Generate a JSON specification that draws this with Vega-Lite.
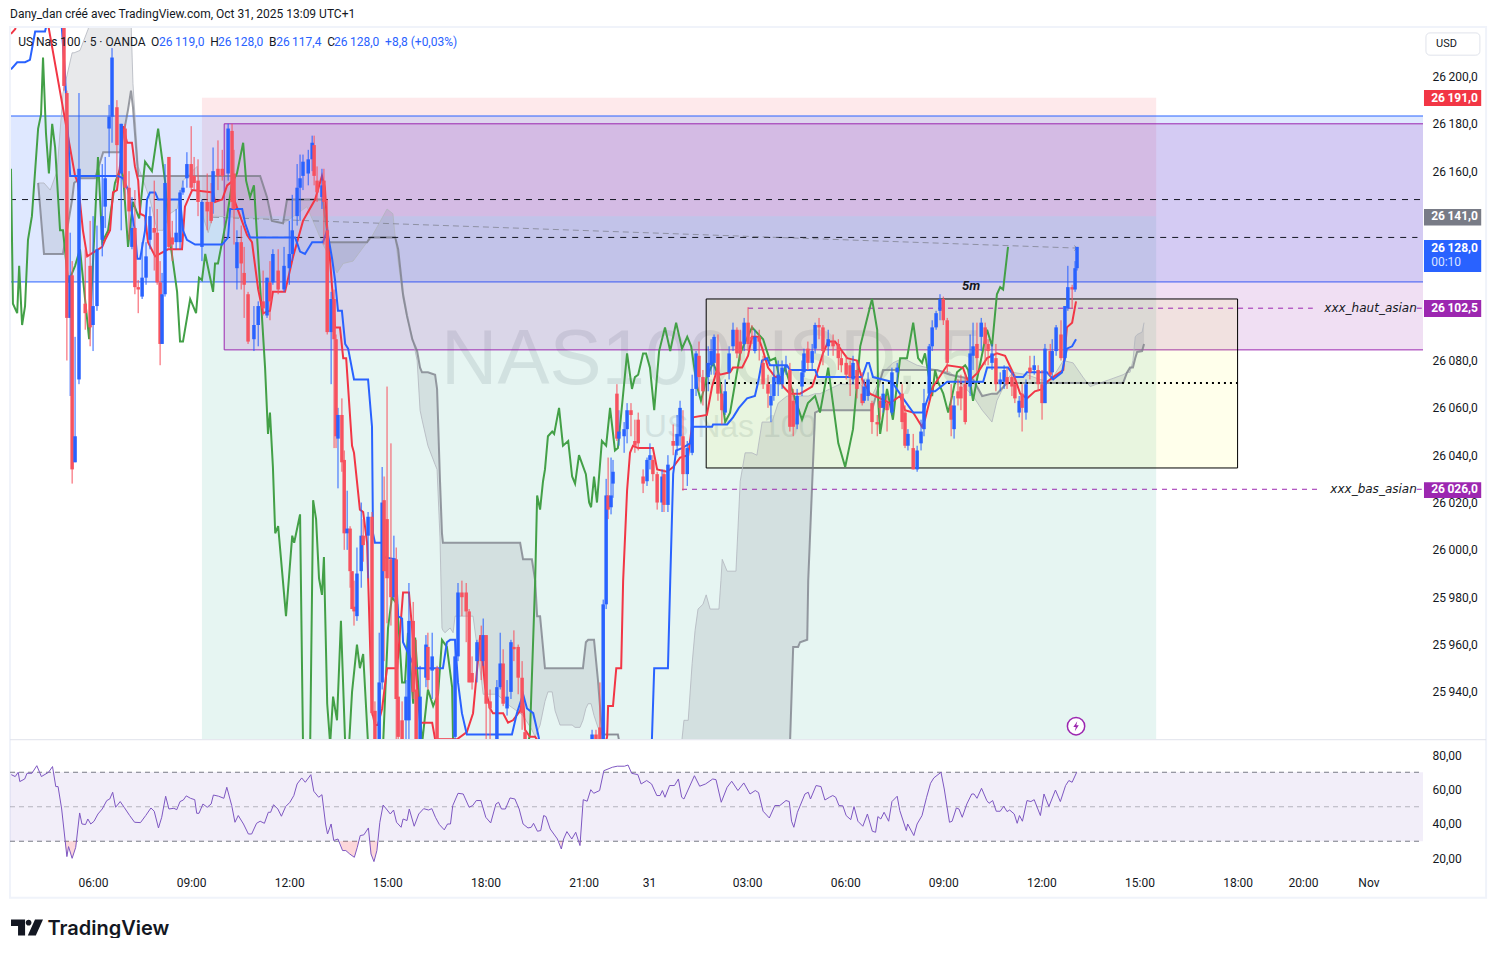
{
"$schema":"https://vega.github.io/schema/vega-lite/v6.json",
"background":"#ffffff",
"padding":{"left":9,"top":7,"right":0,"bottom":0},
"bounds":"flush",
"spacing":1,
"config":{"view":{"stroke":null},"font":"Roboto","text":{"font":"Roboto"},"scale":{"continuousPadding":0},"axis":{"labelFont":"Roboto","labelFontSize":12,"labelColor":"#131722"}},
"datasets":{
"zones":[
{"zone":"risk","t":9.33,"t2":38.51,"p":26191,"p2":26141},
{"zone":"reward","t":9.33,"t2":38.51,"p":26141,"p2":25850},
{"zone":"range","t":3.4,"t2":46.8,"p":26183.3,"p2":26113.2},
{"zone":"htf","t":10.01,"t2":46.8,"p":26180,"p2":26084.5},
{"zone":"asian","t":24.75,"t2":41,"p":26106,"p2":26034.6}
],
"levels":[
{"kind":"black","t":3.46,"t2":46.67,"p":26148},
{"kind":"black","t":10.01,"t2":46.5,"p":26132},
{"kind":"dots","t":24.62,"t2":41,"p":26070.5},
{"kind":"asian","t":26.03,"t2":43.3,"p":26102.1},
{"kind":"asian","t":46.48,"t2":46.67,"p":26102.1},
{"kind":"asian","t":24.01,"t2":43.5,"p":26025.6},
{"kind":"asian","t":46.48,"t2":46.67,"p":26025.6}
],
"cloud":[
{"t":4.32,"a":26155,"b":26155},{"t":4.5,"a":26155,"b":26125},{"t":4.69,"a":26152,"b":26125},{"t":4.9,"a":26160,"b":26125},{"t":5.08,"a":26193,"b":26125},{"t":5.36,"a":26210,"b":26148},{"t":5.42,"a":26210,"b":26155},{"t":5.6,"a":26211,"b":26157},{"t":5.85,"a":26220,"b":26157},{"t":6.06,"a":26232,"b":26157},{"t":6.31,"a":26241,"b":26168},{"t":6.83,"a":26241,"b":26168},{"t":7.07,"a":26241,"b":26186},{"t":7.16,"a":26224,"b":26194},{"t":7.22,"a":26197,"b":26187},{"t":7.38,"a":26162,"b":26158},{"t":7.74,"a":26148,"b":26158},{"t":7.96,"a":26135,"b":26158},{"t":8.14,"a":26135,"b":26158},{"t":8.35,"a":26142,"b":26158},{"t":8.57,"a":26144,"b":26158},{"t":8.75,"a":26156,"b":26158},{"t":9.18,"a":26162,"b":26158},{"t":9.36,"a":26141,"b":26158},{"t":9.52,"a":26134,"b":26158},{"t":9.67,"a":26141,"b":26158},{"t":11.11,"a":26140,"b":26158},{"t":11.32,"a":26140,"b":26149},{"t":11.47,"a":26139,"b":26139},{"t":11.81,"a":26138,"b":26138},{"t":11.93,"a":26139,"b":26148},{"t":12.24,"a":26142,"b":26148},{"t":12.54,"a":26145,"b":26148},{"t":12.85,"a":26135,"b":26148},{"t":13.03,"a":26129,"b":26148},{"t":13.19,"a":26125,"b":26130},{"t":13.46,"a":26117,"b":26130},{"t":13.65,"a":26121,"b":26130},{"t":13.95,"a":26122,"b":26130},{"t":14.38,"a":26130,"b":26130},{"t":14.47,"a":26131,"b":26132},{"t":14.99,"a":26144,"b":26132},{"t":15.17,"a":26142,"b":26132},{"t":15.24,"a":26132,"b":26132},{"t":15.33,"a":26122,"b":26127},{"t":15.48,"a":26106,"b":26108},{"t":15.6,"a":26098,"b":26099},{"t":15.76,"a":26090,"b":26089},{"t":15.91,"a":26080,"b":26084},{"t":16,"a":26059,"b":26077},{"t":16.06,"a":26055,"b":26075},{"t":16.24,"a":26044,"b":26075},{"t":16.46,"a":26036,"b":26074},{"t":16.52,"a":26034,"b":26068},{"t":16.61,"a":26005,"b":26029},{"t":16.67,"a":25967,"b":26007},{"t":16.7,"a":25966,"b":26003},{"t":16.76,"a":25965,"b":26003},{"t":16.92,"a":25967,"b":26003},{"t":17.01,"a":25965,"b":26003},{"t":17.07,"a":25972,"b":26003},{"t":17.62,"a":25972,"b":26003},{"t":17.84,"a":25949,"b":26003},{"t":17.93,"a":25939,"b":26003},{"t":18.35,"a":25939,"b":26003},{"t":18.75,"a":25934,"b":26003},{"t":19.06,"a":25931,"b":26003},{"t":19.15,"a":25930,"b":25996},{"t":19.42,"a":25924,"b":25996},{"t":19.52,"a":25921,"b":25987},{"t":19.58,"a":25923,"b":25972},{"t":19.67,"a":25926,"b":25972},{"t":19.82,"a":25936,"b":25950},{"t":19.91,"a":25940,"b":25950},{"t":20.04,"a":25940,"b":25950},{"t":20.13,"a":25932,"b":25950},{"t":20.28,"a":25926,"b":25950},{"t":20.65,"a":25926,"b":25950},{"t":20.74,"a":25925,"b":25950},{"t":20.89,"a":25925,"b":25950},{"t":20.98,"a":25928,"b":25950},{"t":21.07,"a":25933,"b":25961},{"t":21.14,"a":25935,"b":25962},{"t":21.23,"a":25935,"b":25962},{"t":21.32,"a":25930,"b":25962},{"t":21.44,"a":25925,"b":25945},{"t":21.57,"a":25922,"b":25922},{"t":22.05,"a":25922,"b":25922},{"t":22.12,"a":25917,"b":25917},{"t":23.95,"a":25917,"b":25917},{"t":24.01,"a":25920,"b":25910},{"t":24.07,"a":25928,"b":25910},{"t":24.2,"a":25928,"b":25910},{"t":24.32,"a":25952,"b":25910},{"t":24.41,"a":25966,"b":25910},{"t":24.5,"a":25975,"b":25910},{"t":24.65,"a":25977,"b":25910},{"t":24.75,"a":25981,"b":25910},{"t":24.87,"a":25975,"b":25910},{"t":25.14,"a":25975,"b":25910},{"t":25.2,"a":25987,"b":25910},{"t":25.24,"a":25996,"b":25910},{"t":25.39,"a":25991,"b":25910},{"t":25.66,"a":25991,"b":25910},{"t":25.79,"a":26029,"b":25910},{"t":25.94,"a":26041,"b":25910},{"t":26.15,"a":26041,"b":25910},{"t":26.3,"a":26040,"b":25910},{"t":26.46,"a":26054,"b":25910},{"t":26.76,"a":26054,"b":25910},{"t":26.95,"a":26062,"b":25910},{"t":27.22,"a":26065,"b":25910},{"t":27.31,"a":26065,"b":25917},{"t":27.41,"a":26065,"b":25959},{"t":27.56,"a":26065,"b":25959},{"t":27.62,"a":26065,"b":25961},{"t":27.84,"a":26065,"b":25962},{"t":27.87,"a":26065,"b":25987},{"t":28.08,"a":26066,"b":26058},{"t":28.23,"a":26066,"b":26059},{"t":28.84,"a":26070,"b":26059},{"t":29.45,"a":26070,"b":26059},{"t":29.82,"a":26065,"b":26059},{"t":30.16,"a":26075,"b":26076},{"t":30.46,"a":26079,"b":26076},{"t":30.77,"a":26081,"b":26076},{"t":31.2,"a":26078,"b":26076},{"t":31.81,"a":26076,"b":26076},{"t":32.21,"a":26075,"b":26074},{"t":32.91,"a":26065,"b":26072},{"t":33.19,"a":26059,"b":26065},{"t":33.49,"a":26054,"b":26066},{"t":33.64,"a":26063,"b":26066},{"t":33.95,"a":26072,"b":26070.5},{"t":34.13,"a":26075,"b":26070.5},{"t":34.56,"a":26074,"b":26070.5},{"t":34.96,"a":26072,"b":26070.5},{"t":35.27,"a":26071,"b":26070.5},{"t":35.67,"a":26080,"b":26070.5},{"t":35.97,"a":26079,"b":26070.5},{"t":36.27,"a":26073,"b":26070.5},{"t":36.49,"a":26069,"b":26070.5},{"t":37.1,"a":26072,"b":26070.5},{"t":37.5,"a":26074,"b":26070.5},{"t":37.62,"a":26075,"b":26075},{"t":37.71,"a":26075,"b":26077},{"t":37.8,"a":26080,"b":26077},{"t":37.87,"a":26090,"b":26081},{"t":37.93,"a":26091,"b":26083.6},{"t":38.08,"a":26092,"b":26084},{"t":38.14,"a":26096,"b":26087}
],
"green":[
{"t":3.49,"p":26161},{"t":3.55,"p":26104},{"t":3.68,"p":26100},{"t":3.74,"p":26120},{"t":3.83,"p":26095},{"t":3.92,"p":26103},{"t":4.01,"p":26131},{"t":4.13,"p":26141},{"t":4.32,"p":26178},{"t":4.41,"p":26184},{"t":4.47,"p":26208},{"t":4.56,"p":26176},{"t":4.65,"p":26159},{"t":4.75,"p":26180},{"t":4.84,"p":26170},{"t":4.99,"p":26135},{"t":5.08,"p":26135},{"t":5.24,"p":26113},{"t":5.45,"p":26120},{"t":5.6,"p":26127},{"t":5.88,"p":26089},{"t":6,"p":26122},{"t":6.15,"p":26166},{"t":6.28,"p":26130},{"t":6.46,"p":26135},{"t":6.67,"p":26155},{"t":6.83,"p":26161},{"t":6.92,"p":26158},{"t":7.07,"p":26128},{"t":7.22,"p":26147},{"t":7.41,"p":26140},{"t":7.59,"p":26164},{"t":7.8,"p":26160},{"t":7.99,"p":26178},{"t":8.2,"p":26156},{"t":8.35,"p":26131},{"t":8.57,"p":26109},{"t":8.66,"p":26088},{"t":8.75,"p":26088},{"t":8.97,"p":26106},{"t":9.15,"p":26100},{"t":9.24,"p":26115},{"t":9.33,"p":26114},{"t":9.43,"p":26125},{"t":9.67,"p":26109},{"t":9.73,"p":26121},{"t":9.82,"p":26121},{"t":10.1,"p":26141},{"t":10.25,"p":26155},{"t":10.4,"p":26159},{"t":10.59,"p":26172},{"t":10.68,"p":26156},{"t":10.8,"p":26149},{"t":10.92,"p":26154},{"t":11.26,"p":26077},{"t":11.35,"p":26049},{"t":11.41,"p":26058},{"t":11.5,"p":26035},{"t":11.57,"p":26007},{"t":11.66,"p":26010},{"t":11.9,"p":25972},{"t":12.09,"p":26006},{"t":12.15,"p":26003},{"t":12.33,"p":26015},{"t":12.42,"p":25918},{"t":12.64,"p":25918},{"t":12.73,"p":26021},{"t":12.82,"p":26013},{"t":12.91,"p":25988},{"t":13,"p":25981},{"t":13.06,"p":25997},{"t":13.16,"p":25935},{"t":13.25,"p":25918},{"t":13.34,"p":25938},{"t":13.46,"p":25928},{"t":13.58,"p":25970},{"t":13.71,"p":25918},{"t":13.83,"p":25918},{"t":13.92,"p":25940},{"t":14.07,"p":25960},{"t":14.16,"p":25950},{"t":14.26,"p":25956},{"t":14.41,"p":25918},{"t":14.87,"p":25918},{"t":15.02,"p":25967},{"t":15.14,"p":25980},{"t":15.3,"p":25977},{"t":15.45,"p":25944},{"t":15.54,"p":25944},{"t":15.63,"p":25965},{"t":15.79,"p":25935},{"t":15.85,"p":25963},{"t":16.06,"p":25918},{"t":16.24,"p":25941},{"t":16.4,"p":25934},{"t":16.55,"p":25939},{"t":16.67,"p":25962},{"t":16.82,"p":25959},{"t":16.98,"p":25942},{"t":17.01,"p":25918},{"t":19.3,"p":25918},{"t":19.36,"p":25922},{"t":19.52,"p":25987},{"t":19.58,"p":26023},{"t":19.67,"p":26017},{"t":19.76,"p":26029},{"t":19.82,"p":26034},{"t":19.91,"p":26048},{"t":20.04,"p":26050},{"t":20.1,"p":26049},{"t":20.25,"p":26060},{"t":20.37,"p":26044},{"t":20.53,"p":26046},{"t":20.65,"p":26031},{"t":20.74,"p":26028},{"t":20.86,"p":26040},{"t":21.07,"p":26032},{"t":21.17,"p":26020},{"t":21.23,"p":26018},{"t":21.32,"p":26031},{"t":21.41,"p":26020},{"t":21.56,"p":26046},{"t":21.69,"p":26044},{"t":21.81,"p":26060},{"t":21.96,"p":26042},{"t":22.05,"p":26043},{"t":22.33,"p":26083},{"t":22.48,"p":26068},{"t":22.57,"p":26073},{"t":22.67,"p":26074},{"t":22.82,"p":26083},{"t":22.91,"p":26083},{"t":23.03,"p":26077},{"t":23.16,"p":26059},{"t":23.31,"p":26084},{"t":23.49,"p":26094},{"t":23.65,"p":26084},{"t":23.83,"p":26096},{"t":24.01,"p":26085},{"t":24.17,"p":26090},{"t":24.29,"p":26086},{"t":24.47,"p":26069},{"t":24.59,"p":26063},{"t":24.77,"p":26073},{"t":24.96,"p":26079},{"t":25.14,"p":26073},{"t":25.33,"p":26054},{"t":25.48,"p":26058},{"t":25.79,"p":26083},{"t":26.15,"p":26094},{"t":26.49,"p":26089},{"t":26.7,"p":26080},{"t":26.86,"p":26081},{"t":27.01,"p":26071},{"t":27.16,"p":26077},{"t":27.41,"p":26066},{"t":27.68,"p":26055},{"t":27.86,"p":26062},{"t":28.08,"p":26065},{"t":28.23,"p":26058},{"t":28.48,"p":26077},{"t":28.79,"p":26045},{"t":29,"p":26035},{"t":29.15,"p":26045},{"t":29.24,"p":26051},{"t":29.46,"p":26086},{"t":29.82,"p":26106},{"t":29.98,"p":26093},{"t":30.01,"p":26063},{"t":30.07,"p":26049},{"t":30.28,"p":26068},{"t":30.46,"p":26055},{"t":30.68,"p":26081},{"t":30.89,"p":26081},{"t":31.08,"p":26096},{"t":31.23,"p":26081},{"t":31.35,"p":26079},{"t":31.44,"p":26083},{"t":31.66,"p":26065},{"t":31.75,"p":26076},{"t":31.84,"p":26071},{"t":32,"p":26066},{"t":32.15,"p":26058},{"t":32.27,"p":26065},{"t":32.42,"p":26075},{"t":32.67,"p":26078},{"t":32.76,"p":26076},{"t":32.91,"p":26063},{"t":33.03,"p":26072},{"t":33.34,"p":26093},{"t":33.49,"p":26086},{"t":33.64,"p":26108},{"t":33.74,"p":26111},{"t":33.83,"p":26110},{"t":33.98,"p":26128}
],
"kijun":[
{"t":3.49,"p":26203},{"t":3.68,"p":26206},{"t":3.92,"p":26206},{"t":4.07,"p":26207},{"t":4.23,"p":26219},{"t":4.53,"p":26219},{"t":4.62,"p":26224},{"t":4.99,"p":26232},{"t":5.14,"p":26201},{"t":5.3,"p":26158},{"t":6.76,"p":26158},{"t":6.92,"p":26157},{"t":7.07,"p":26152},{"t":7.28,"p":26135},{"t":7.35,"p":26123},{"t":7.44,"p":26123},{"t":7.59,"p":26135},{"t":7.65,"p":26148},{"t":7.74,"p":26151},{"t":7.9,"p":26151},{"t":7.99,"p":26148},{"t":8.66,"p":26148},{"t":8.75,"p":26135},{"t":8.87,"p":26131},{"t":9.12,"p":26129},{"t":9.95,"p":26129},{"t":10.13,"p":26132},{"t":10.19,"p":26144},{"t":10.28,"p":26144},{"t":10.56,"p":26144},{"t":10.65,"p":26138},{"t":10.8,"p":26132},{"t":12.18,"p":26132},{"t":12.33,"p":26126},{"t":12.48,"p":26125},{"t":12.7,"p":26130},{"t":13.03,"p":26130},{"t":13.16,"p":26135},{"t":13.31,"p":26123},{"t":13.4,"p":26114},{"t":13.49,"p":26101},{"t":13.61,"p":26101},{"t":13.71,"p":26087},{"t":13.8,"p":26085},{"t":13.98,"p":26072},{"t":14.41,"p":26072},{"t":14.53,"p":26052},{"t":14.56,"p":26007},{"t":14.62,"p":26003},{"t":14.84,"p":26003},{"t":14.87,"p":25997},{"t":15.24,"p":25996},{"t":15.33,"p":25972},{"t":15.45,"p":25971},{"t":15.48,"p":25961},{"t":15.85,"p":25950},{"t":16.7,"p":25950},{"t":16.82,"p":25961},{"t":16.92,"p":25962},{"t":17.07,"p":25962},{"t":17.16,"p":25944},{"t":17.28,"p":25931},{"t":17.43,"p":25922},{"t":18.81,"p":25922},{"t":18.96,"p":25931},{"t":19.15,"p":25939},{"t":19.27,"p":25933},{"t":19.46,"p":25931},{"t":19.61,"p":25922},{"t":19.67,"p":25918},{"t":23.03,"p":25918},{"t":23.09,"p":25920},{"t":23.16,"p":25950},{"t":23.58,"p":25950},{"t":23.65,"p":25987},{"t":23.74,"p":26032},{"t":23.83,"p":26042},{"t":24.01,"p":26043},{"t":24.26,"p":26045},{"t":24.35,"p":26052},{"t":24.93,"p":26052},{"t":24.96,"p":26053},{"t":25.39,"p":26053},{"t":25.57,"p":26056},{"t":25.75,"p":26060},{"t":26,"p":26064},{"t":26.24,"p":26065},{"t":26.34,"p":26071},{"t":26.46,"p":26080},{"t":26.61,"p":26081},{"t":26.7,"p":26078},{"t":27.22,"p":26078},{"t":27.31,"p":26076},{"t":28.08,"p":26076},{"t":28.17,"p":26073},{"t":29.52,"p":26073},{"t":29.67,"p":26079},{"t":29.73,"p":26079},{"t":29.85,"p":26073},{"t":30.43,"p":26071},{"t":30.77,"p":26064},{"t":31.08,"p":26058},{"t":31.38,"p":26058},{"t":31.6,"p":26067},{"t":31.75,"p":26067},{"t":32.12,"p":26071},{"t":33.22,"p":26071},{"t":33.34,"p":26077},{"t":33.52,"p":26077},{"t":33.98,"p":26077},{"t":34.19,"p":26073},{"t":34.44,"p":26073},{"t":34.56,"p":26075},{"t":35.17,"p":26075},{"t":35.36,"p":26072},{"t":35.63,"p":26075},{"t":35.78,"p":26085},{"t":35.94,"p":26086},{"t":36.06,"p":26089}
],
"tenkan":[
{"t":3.49,"p":26218},{"t":3.62,"p":26220},{"t":3.71,"p":26226},{"t":4.38,"p":26241},{"t":5.14,"p":26182},{"t":5.45,"p":26158},{"t":5.54,"p":26155},{"t":5.69,"p":26135},{"t":5.82,"p":26124},{"t":6.28,"p":26128},{"t":6.37,"p":26131},{"t":6.52,"p":26135},{"t":6.61,"p":26151},{"t":6.73,"p":26152},{"t":6.83,"p":26163},{"t":6.92,"p":26179},{"t":7.04,"p":26172},{"t":7.19,"p":26172},{"t":7.28,"p":26162},{"t":7.38,"p":26156},{"t":7.44,"p":26142},{"t":7.59,"p":26141},{"t":7.68,"p":26130},{"t":7.9,"p":26124},{"t":8.29,"p":26127},{"t":8.72,"p":26127},{"t":8.81,"p":26145},{"t":9.03,"p":26152},{"t":9.67,"p":26151},{"t":9.73,"p":26147},{"t":9.95,"p":26148},{"t":10.1,"p":26154},{"t":10.28,"p":26156},{"t":10.34,"p":26147},{"t":10.71,"p":26133},{"t":10.86,"p":26130},{"t":11.05,"p":26110},{"t":11.2,"p":26100},{"t":11.41,"p":26101},{"t":11.5,"p":26109},{"t":11.87,"p":26109},{"t":12.12,"p":26124},{"t":12.42,"p":26139},{"t":12.79,"p":26148},{"t":13,"p":26158},{"t":13.09,"p":26153},{"t":13.16,"p":26136},{"t":13.25,"p":26122},{"t":13.4,"p":26094},{"t":13.55,"p":26094},{"t":13.65,"p":26081},{"t":13.74,"p":26081},{"t":13.92,"p":26044},{"t":13.98,"p":26041},{"t":14.16,"p":26017},{"t":14.26,"p":26016},{"t":14.38,"p":26003},{"t":14.53,"p":25932},{"t":14.62,"p":25926},{"t":14.71,"p":25926},{"t":14.84,"p":25933},{"t":14.99,"p":25950},{"t":15.3,"p":25950},{"t":15.48,"p":25982},{"t":15.66,"p":25982},{"t":15.85,"p":25952},{"t":16,"p":25927},{"t":16.37,"p":25927},{"t":16.46,"p":25920},{"t":17.13,"p":25920},{"t":17.43,"p":25923},{"t":17.62,"p":25931},{"t":17.84,"p":25964},{"t":17.99,"p":25942},{"t":18.14,"p":25933},{"t":18.23,"p":25931},{"t":18.54,"p":25931},{"t":18.69,"p":25927},{"t":18.84,"p":25928},{"t":19.06,"p":25932},{"t":19.15,"p":25938},{"t":19.21,"p":25924},{"t":19.36,"p":25921},{"t":19.52,"p":25921},{"t":19.67,"p":25918},{"t":21.66,"p":25918},{"t":21.72,"p":25921},{"t":21.75,"p":25934},{"t":21.9,"p":25934},{"t":22,"p":25950},{"t":22.15,"p":25950},{"t":22.21,"p":25987},{"t":22.33,"p":26025},{"t":22.42,"p":26041},{"t":22.51,"p":26044},{"t":22.67,"p":26043},{"t":23.12,"p":26043},{"t":23.25,"p":26034},{"t":23.55,"p":26033},{"t":23.74,"p":26035},{"t":23.95,"p":26039},{"t":24.2,"p":26040},{"t":24.35,"p":26056},{"t":24.77,"p":26057},{"t":24.93,"p":26069},{"t":25.08,"p":26076},{"t":25.17,"p":26074},{"t":25.48,"p":26075},{"t":25.57,"p":26077},{"t":25.85,"p":26077},{"t":26.03,"p":26082},{"t":26.15,"p":26090},{"t":26.34,"p":26090},{"t":26.49,"p":26084},{"t":26.64,"p":26077},{"t":26.86,"p":26073},{"t":27.01,"p":26073},{"t":27.1,"p":26069},{"t":27.31,"p":26066},{"t":27.62,"p":26066},{"t":27.99,"p":26069},{"t":28.14,"p":26075},{"t":28.32,"p":26083},{"t":28.48,"p":26088},{"t":28.69,"p":26088},{"t":29.06,"p":26081},{"t":29.36,"p":26080},{"t":29.52,"p":26072},{"t":29.76,"p":26066},{"t":30.07,"p":26064},{"t":30.37,"p":26062},{"t":30.68,"p":26065},{"t":30.83,"p":26059},{"t":31.08,"p":26058},{"t":31.35,"p":26052},{"t":31.44,"p":26055},{"t":31.69,"p":26069},{"t":32.12,"p":26078},{"t":32.6,"p":26077},{"t":32.76,"p":26071},{"t":33.06,"p":26075},{"t":33.34,"p":26081},{"t":33.64,"p":26083},{"t":33.89,"p":26082},{"t":34.13,"p":26075},{"t":34.35,"p":26066},{"t":34.56,"p":26064},{"t":34.8,"p":26067},{"t":35.05,"p":26068},{"t":35.17,"p":26071},{"t":35.36,"p":26073},{"t":35.67,"p":26076},{"t":35.78,"p":26094},{"t":35.94,"p":26096},{"t":36.06,"p":26105}
],
"candles":[
{"t":5.11,"o":26225,"c":26196,"h":26235,"l":26194},{"t":5.2,"o":26193,"c":26098,"h":26194,"l":26080},{"t":5.3,"o":26098,"c":26116,"h":26134,"l":26065},{"t":5.36,"o":26116,"c":26034,"h":26122,"l":26028},{"t":5.45,"o":26037,"c":26048,"h":26090,"l":26037},{"t":5.57,"o":26072,"c":26161,"h":26193,"l":26070},{"t":5.76,"o":26104,"c":26100,"h":26127,"l":26093},{"t":5.91,"o":26120,"c":26094,"h":26139,"l":26086},{"t":6,"o":26095,"c":26103,"h":26141,"l":26084},{"t":6.12,"o":26103,"c":26127,"h":26137,"l":26101},{"t":6.28,"o":26131,"c":26141,"h":26163,"l":26124},{"t":6.37,"o":26145,"c":26157,"h":26166,"l":26136},{"t":6.49,"o":26178,"c":26183,"h":26188,"l":26166},{"t":6.58,"o":26183,"c":26208,"h":26212,"l":26172},{"t":6.73,"o":26187,"c":26171,"h":26190,"l":26155},{"t":6.86,"o":26159,"c":26180,"h":26180,"l":26135},{"t":6.98,"o":26178,"c":26153,"h":26180,"l":26148},{"t":7.1,"o":26153,"c":26143,"h":26160,"l":26131},{"t":7.19,"o":26128,"c":26136,"h":26149,"l":26127},{"t":7.28,"o":26136,"c":26111,"h":26152,"l":26108},{"t":7.38,"o":26111,"c":26110,"h":26114,"l":26100},{"t":7.5,"o":26107,"c":26115,"h":26130,"l":26106},{"t":7.62,"o":26115,"c":26124,"h":26130,"l":26112},{"t":7.74,"o":26131,"c":26141,"h":26145,"l":26127},{"t":7.87,"o":26136,"c":26134,"h":26156,"l":26118},{"t":7.96,"o":26134,"c":26113,"h":26144,"l":26112},{"t":8.05,"o":26113,"c":26087,"h":26122,"l":26078},{"t":8.11,"o":26087,"c":26108,"h":26117,"l":26087},{"t":8.2,"o":26108,"c":26155,"h":26163,"l":26107},{"t":8.32,"o":26166,"c":26128,"h":26166,"l":26127},{"t":8.42,"o":26132,"c":26129,"h":26139,"l":26122},{"t":8.54,"o":26130,"c":26134,"h":26144,"l":26127},{"t":8.66,"o":26130,"c":26151,"h":26152,"l":26127},{"t":8.75,"o":26151,"c":26153,"h":26156,"l":26150},{"t":8.87,"o":26157,"c":26163,"h":26168,"l":26153},{"t":9,"o":26163,"c":26153,"h":26179,"l":26152},{"t":9.09,"o":26158,"c":26155,"h":26166,"l":26152},{"t":9.21,"o":26156,"c":26147,"h":26165,"l":26141},{"t":9.33,"o":26128,"c":26147,"h":26148,"l":26122},{"t":9.49,"o":26147,"c":26143,"h":26159,"l":26135},{"t":9.61,"o":26147,"c":26139,"h":26155,"l":26138},{"t":9.67,"o":26147,"c":26160,"h":26170,"l":26142},{"t":9.82,"o":26161,"c":26158,"h":26173,"l":26152},{"t":9.95,"o":26161,"c":26158,"h":26169,"l":26156},{"t":10.13,"o":26159,"c":26178,"h":26180,"l":26156},{"t":10.25,"o":26177,"c":26147,"h":26180,"l":26144},{"t":10.31,"o":26159,"c":26144,"h":26169,"l":26129},{"t":10.4,"o":26119,"c":26130,"h":26135,"l":26110},{"t":10.53,"o":26130,"c":26121,"h":26137,"l":26110},{"t":10.62,"o":26117,"c":26112,"h":26128,"l":26098},{"t":10.74,"o":26108,"c":26088,"h":26109,"l":26087},{"t":10.92,"o":26089,"c":26095,"h":26103,"l":26084},{"t":11.05,"o":26095,"c":26103,"h":26105,"l":26086},{"t":11.2,"o":26105,"c":26102,"h":26118,"l":26099},{"t":11.32,"o":26099,"c":26115,"h":26115,"l":26098},{"t":11.41,"o":26113,"c":26105,"h":26122,"l":26097},{"t":11.5,"o":26113,"c":26125,"h":26127,"l":26112},{"t":11.66,"o":26118,"c":26110,"h":26127,"l":26108},{"t":11.84,"o":26110,"c":26120,"h":26128,"l":26109},{"t":12,"o":26119,"c":26125,"h":26139,"l":26112},{"t":12.09,"o":26125,"c":26135,"h":26150,"l":26122},{"t":12.24,"o":26141,"c":26153,"h":26163,"l":26137},{"t":12.33,"o":26153,"c":26157,"h":26167,"l":26139},{"t":12.42,"o":26158,"c":26164,"h":26167,"l":26152},{"t":12.58,"o":26159,"c":26165,"h":26169,"l":26154},{"t":12.7,"o":26165,"c":26172,"h":26175,"l":26160},{"t":12.76,"o":26171,"c":26158,"h":26175,"l":26154},{"t":12.85,"o":26156,"c":26151,"h":26162,"l":26147},{"t":13,"o":26149,"c":26154,"h":26161,"l":26144},{"t":13.06,"o":26156,"c":26147,"h":26161,"l":26129},{"t":13.16,"o":26135,"c":26092,"h":26148,"l":26091},{"t":13.28,"o":26092,"c":26106,"h":26109,"l":26070},{"t":13.37,"o":26106,"c":26089,"h":26110,"l":26043},{"t":13.43,"o":26089,"c":26048,"h":26091,"l":26043},{"t":13.49,"o":26047,"c":26057,"h":26060,"l":26026},{"t":13.61,"o":26057,"c":26037,"h":26064,"l":26033},{"t":13.68,"o":26038,"c":26007,"h":26042,"l":26000},{"t":13.77,"o":26007,"c":26009,"h":26025,"l":26000},{"t":13.86,"o":26009,"c":25991,"h":26010,"l":25984},{"t":13.92,"o":25991,"c":25975,"h":25991,"l":25975},{"t":13.98,"o":25976,"c":25974,"h":25987,"l":25968},{"t":14.07,"o":25972,"c":25990,"h":26001,"l":25970},{"t":14.2,"o":25991,"c":26006,"h":26020,"l":25984},{"t":14.26,"o":26006,"c":26002,"h":26013,"l":25995},{"t":14.41,"o":26006,"c":26014,"h":26016,"l":25988},{"t":14.53,"o":26014,"c":25931,"h":26016,"l":25930},{"t":14.62,"o":25932,"c":25917,"h":25936,"l":25915},{"t":14.75,"o":25917,"c":25944,"h":25965,"l":25915},{"t":14.84,"o":25944,"c":26020,"h":26035,"l":25941},{"t":14.9,"o":26021,"c":25991,"h":26031,"l":25953},{"t":14.99,"o":26013,"c":25988,"h":26069,"l":25969},{"t":15.11,"o":25996,"c":25980,"h":26045,"l":25968},{"t":15.2,"o":25980,"c":25996,"h":26006,"l":25979},{"t":15.27,"o":25996,"c":25937,"h":26001,"l":25920},{"t":15.33,"o":25938,"c":25921,"h":25953,"l":25917},{"t":15.45,"o":25928,"c":25917,"h":25936,"l":25915},{"t":15.57,"o":25928,"c":25938,"h":25945,"l":25920},{"t":15.66,"o":25928,"c":25970,"h":25986,"l":25917},{"t":15.79,"o":25970,"c":25940,"h":25978,"l":25937},{"t":15.88,"o":25941,"c":25917,"h":25962,"l":25915},{"t":16,"o":25917,"c":25938,"h":25951,"l":25915},{"t":16.18,"o":25946,"c":25960,"h":25964,"l":25942},{"t":16.24,"o":25959,"c":25945,"h":25965,"l":25941},{"t":16.37,"o":25949,"c":25955,"h":25965,"l":25937},{"t":16.52,"o":25950,"c":25917,"h":25951,"l":25915},{"t":17.07,"o":25921,"c":25955,"h":25962,"l":25917},{"t":17.16,"o":25955,"c":25982,"h":25986,"l":25953},{"t":17.28,"o":25982,"c":25980,"h":25987,"l":25972},{"t":17.41,"o":25982,"c":25974,"h":25986,"l":25961},{"t":17.5,"o":25974,"c":25944,"h":25975,"l":25944},{"t":17.59,"o":25948,"c":25944,"h":25955,"l":25941},{"t":17.74,"o":25953,"c":25961,"h":25962,"l":25944},{"t":17.87,"o":25962,"c":25953,"h":25968,"l":25945},{"t":17.93,"o":25953,"c":25964,"h":25971,"l":25951},{"t":18.02,"o":25964,"c":25935,"h":25964,"l":25917},{"t":18.14,"o":25936,"c":25933,"h":25941,"l":25917},{"t":18.35,"o":25917,"c":25942,"h":25945,"l":25915},{"t":18.45,"o":25942,"c":25952,"h":25965,"l":25941},{"t":18.54,"o":25952,"c":25935,"h":25958,"l":25934},{"t":18.66,"o":25933,"c":25938,"h":25945,"l":25930},{"t":18.78,"o":25940,"c":25961,"h":25962,"l":25937},{"t":18.87,"o":25959,"c":25958,"h":25966,"l":25953},{"t":19,"o":25959,"c":25946,"h":25960,"l":25939},{"t":19.12,"o":25946,"c":25931,"h":25953,"l":25924},{"t":19.21,"o":25923,"c":25920,"h":25926,"l":25917},{"t":21.26,"o":25917,"c":25922,"h":25924,"l":25917},{"t":21.38,"o":25922,"c":25917,"h":25924,"l":25917},{"t":21.5,"o":25925,"c":25917,"h":25944,"l":25915},{"t":21.6,"o":25917,"c":25977,"h":25979,"l":25915},{"t":21.69,"o":25977,"c":26023,"h":26030,"l":25975},{"t":21.75,"o":26023,"c":26017,"h":26039,"l":26013},{"t":21.84,"o":26018,"c":26023,"h":26039,"l":26015},{"t":21.9,"o":26028,"c":26033,"h":26038,"l":26022},{"t":22.02,"o":26066,"c":26047,"h":26070,"l":26046},{"t":22.08,"o":26047,"c":26050,"h":26059,"l":26044},{"t":22.24,"o":26048,"c":26051,"h":26054,"l":26041},{"t":22.33,"o":26051,"c":26059,"h":26062,"l":26045},{"t":22.45,"o":26059,"c":26057,"h":26062,"l":26048},{"t":22.57,"o":26046,"c":26044,"h":26055,"l":26041},{"t":22.67,"o":26055,"c":26045,"h":26058,"l":26042},{"t":22.82,"o":26031,"c":26028,"h":26034,"l":26024},{"t":22.94,"o":26029,"c":26038,"h":26039,"l":26027},{"t":23.03,"o":26038,"c":26040,"h":26045,"l":26034},{"t":23.12,"o":26038,"c":26032,"h":26040,"l":26029},{"t":23.25,"o":26032,"c":26020,"h":26033,"l":26017},{"t":23.4,"o":26020,"c":26031,"h":26034,"l":26016},{"t":23.46,"o":26032,"c":26019,"h":26034,"l":26016},{"t":23.58,"o":26019,"c":26036,"h":26040,"l":26016},{"t":23.74,"o":26046,"c":26044,"h":26053,"l":26040},{"t":23.86,"o":26044,"c":26049,"h":26057,"l":26040},{"t":23.95,"o":26048,"c":26060,"h":26063,"l":26044},{"t":24.04,"o":26048,"c":26032,"h":26059,"l":26025},{"t":24.17,"o":26032,"c":26043,"h":26046,"l":26027},{"t":24.32,"o":26041,"c":26068,"h":26074,"l":26040},{"t":24.44,"o":26068,"c":26083,"h":26084,"l":26065},{"t":24.53,"o":26082,"c":26073,"h":26088,"l":26067},{"t":24.65,"o":26073,"c":26067,"h":26076,"l":26061},{"t":24.81,"o":26073,"c":26079,"h":26086,"l":26067},{"t":24.9,"o":26078,"c":26084,"h":26089,"l":26074},{"t":24.99,"o":26079,"c":26090,"h":26091,"l":26074},{"t":25.11,"o":26083,"c":26066,"h":26091,"l":26063},{"t":25.23,"o":26066,"c":26059,"h":26070,"l":26053},{"t":25.33,"o":26058,"c":26067,"h":26072,"l":26057},{"t":25.45,"o":26075,"c":26083,"h":26086,"l":26072},{"t":25.57,"o":26086,"c":26093,"h":26096,"l":26084},{"t":25.69,"o":26093,"c":26083,"h":26094,"l":26081},{"t":25.79,"o":26088,"c":26083,"h":26093,"l":26080},{"t":25.91,"o":26087,"c":26096,"h":26098,"l":26084},{"t":26.03,"o":26096,"c":26087,"h":26102.5,"l":26084},{"t":26.15,"o":26090,"c":26089,"h":26095,"l":26087},{"t":26.24,"o":26084,"c":26090,"h":26093,"l":26083},{"t":26.37,"o":26090,"c":26088,"h":26093,"l":26080},{"t":26.49,"o":26079,"c":26070,"h":26082,"l":26068},{"t":26.64,"o":26070,"c":26066,"h":26074,"l":26060},{"t":26.73,"o":26061,"c":26065,"h":26070,"l":26054},{"t":26.82,"o":26065,"c":26073,"h":26078,"l":26063},{"t":26.95,"o":26070,"c":26074,"h":26080,"l":26065},{"t":27.07,"o":26070,"c":26077,"h":26080,"l":26068},{"t":27.19,"o":26077,"c":26078,"h":26082,"l":26074},{"t":27.31,"o":26076,"c":26052,"h":26079,"l":26050},{"t":27.41,"o":26063,"c":26052,"h":26068,"l":26048},{"t":27.53,"o":26053,"c":26065,"h":26068,"l":26051},{"t":27.68,"o":26069,"c":26075,"h":26080,"l":26065},{"t":27.74,"o":26075,"c":26083,"h":26085,"l":26073},{"t":27.86,"o":26085,"c":26079,"h":26088,"l":26076},{"t":27.99,"o":26079,"c":26084,"h":26087,"l":26076},{"t":28.08,"o":26085,"c":26095,"h":26096,"l":26083},{"t":28.2,"o":26095,"c":26094,"h":26098,"l":26089},{"t":28.32,"o":26094,"c":26084,"h":26095,"l":26078},{"t":28.48,"o":26086,"c":26089,"h":26093,"l":26082},{"t":28.63,"o":26088,"c":26086,"h":26091,"l":26082},{"t":28.79,"o":26087,"c":26081,"h":26089,"l":26076},{"t":28.88,"o":26081,"c":26078,"h":26084,"l":26075},{"t":29.03,"o":26079,"c":26074,"h":26082,"l":26072},{"t":29.15,"o":26078,"c":26073,"h":26080,"l":26065},{"t":29.24,"o":26072,"c":26079,"h":26082,"l":26070},{"t":29.36,"o":26076,"c":26068,"h":26080,"l":26064},{"t":29.52,"o":26066,"c":26062,"h":26075,"l":26061},{"t":29.58,"o":26063,"c":26069,"h":26072,"l":26062},{"t":29.7,"o":26065,"c":26072,"h":26075,"l":26063},{"t":29.82,"o":26062,"c":26054,"h":26063,"l":26049},{"t":29.98,"o":26054,"c":26053,"h":26057,"l":26048},{"t":30.07,"o":26063,"c":26060,"h":26065,"l":26055},{"t":30.16,"o":26060,"c":26066,"h":26070,"l":26058},{"t":30.28,"o":26062,"c":26059,"h":26065,"l":26050},{"t":30.43,"o":26058,"c":26075,"h":26077,"l":26057},{"t":30.59,"o":26075,"c":26077,"h":26079,"l":26070},{"t":30.74,"o":26066,"c":26054,"h":26070,"l":26051},{"t":30.83,"o":26058,"c":26044,"h":26061,"l":26043},{"t":30.92,"o":26044,"c":26049,"h":26051,"l":26042},{"t":31.08,"o":26043,"c":26034,"h":26049,"l":26034},{"t":31.2,"o":26034,"c":26042,"h":26044,"l":26033},{"t":31.32,"o":26045,"c":26050,"h":26055,"l":26042},{"t":31.41,"o":26051,"c":26062,"h":26068,"l":26048},{"t":31.57,"o":26066,"c":26086,"h":26087,"l":26063},{"t":31.66,"o":26086,"c":26094,"h":26097,"l":26084},{"t":31.78,"o":26094,"c":26100,"h":26101,"l":26093},{"t":31.9,"o":26101,"c":26106,"h":26108,"l":26097},{"t":32,"o":26106,"c":26097,"h":26107,"l":26095},{"t":32.12,"o":26097,"c":26079,"h":26098,"l":26075},{"t":32.24,"o":26061,"c":26055,"h":26070,"l":26048},{"t":32.33,"o":26051,"c":26061,"h":26065,"l":26047},{"t":32.45,"o":26067,"c":26064,"h":26072,"l":26061},{"t":32.54,"o":26069,"c":26064,"h":26074,"l":26059},{"t":32.67,"o":26070,"c":26054,"h":26074,"l":26053},{"t":32.82,"o":26069,"c":26083,"h":26091,"l":26065},{"t":32.91,"o":26082,"c":26086,"h":26096,"l":26076},{"t":33.03,"o":26087,"c":26081,"h":26096,"l":26074},{"t":33.16,"o":26090,"c":26096,"h":26098,"l":26084},{"t":33.28,"o":26094,"c":26087,"h":26096,"l":26078},{"t":33.37,"o":26087,"c":26084,"h":26089,"l":26078},{"t":33.49,"o":26079,"c":26083,"h":26087,"l":26076},{"t":33.61,"o":26081,"c":26070,"h":26087,"l":26067},{"t":33.74,"o":26070,"c":26072,"h":26075,"l":26067},{"t":33.86,"o":26071,"c":26076,"h":26078,"l":26068},{"t":33.95,"o":26073,"c":26070,"h":26077,"l":26068},{"t":34.1,"o":26073,"c":26069,"h":26076,"l":26065},{"t":34.19,"o":26070,"c":26064,"h":26074,"l":26062},{"t":34.32,"o":26058,"c":26063,"h":26065,"l":26056},{"t":34.41,"o":26066,"c":26060,"h":26070,"l":26050},{"t":34.53,"o":26058,"c":26070,"h":26072,"l":26055},{"t":34.65,"o":26077,"c":26075,"h":26082,"l":26072},{"t":34.78,"o":26076,"c":26078,"h":26082,"l":26074},{"t":34.9,"o":26076,"c":26070,"h":26078,"l":26067},{"t":35.02,"o":26070,"c":26062,"h":26076,"l":26055},{"t":35.11,"o":26062,"c":26085,"h":26087,"l":26062},{"t":35.27,"o":26084,"c":26074,"h":26087,"l":26073},{"t":35.33,"o":26075,"c":26084,"h":26089,"l":26072},{"t":35.45,"o":26084,"c":26094,"h":26095,"l":26082},{"t":35.6,"o":26091,"c":26081,"h":26097,"l":26080},{"t":35.72,"o":26081,"c":26103,"h":26103,"l":26080},{"t":35.81,"o":26102,"c":26111,"h":26120,"l":26101},{"t":35.94,"o":26111,"c":26110,"h":26112,"l":26102},{"t":36.03,"o":26110,"c":26119,"h":26122,"l":26109},{"t":36.09,"o":26119,"c":26128,"h":26128,"l":26118}
],
"badges":[
{"tag":"high","t":46.7,"t2":48.45,"p":26194.3,"p2":26187.5},
{"tag":"entry","t":46.7,"t2":48.45,"p":26144,"p2":26137},
{"tag":"last","t":46.7,"t2":48.45,"p":26130.9,"p2":26117.4},
{"tag":"asian","t":46.7,"t2":48.45,"p":26105.6,"p2":26098.4},
{"tag":"asian","t":46.7,"t2":48.45,"p":26028.6,"p2":26021.9}
],
"rsi":[
{"t":3.5,"v":68.6},{"t":3.62,"v":67.5},{"t":3.71,"v":70},{"t":3.76,"v":64.6},{"t":3.91,"v":66.1},{"t":3.98,"v":69.4},{"t":4.13,"v":69.4},{"t":4.28,"v":73.8},{"t":4.42,"v":67.5},{"t":4.64,"v":70},{"t":4.76,"v":73.3},{"t":4.86,"v":61.7},{"t":4.93,"v":61.7},{"t":5.04,"v":48.7},{"t":5.2,"v":21.1},{"t":5.25,"v":26.9},{"t":5.36,"v":20.1},{"t":5.47,"v":26.5},{"t":5.59,"v":46.4},{"t":5.66,"v":40},{"t":5.77,"v":39.7},{"t":5.84,"v":42.9},{"t":5.93,"v":40},{"t":6.03,"v":41.6},{"t":6.15,"v":45.8},{"t":6.28,"v":48.7},{"t":6.42,"v":53.6},{"t":6.51,"v":54.5},{"t":6.6,"v":58.4},{"t":6.69,"v":49.7},{"t":6.83,"v":53},{"t":6.95,"v":49.7},{"t":7.12,"v":44.9},{"t":7.27,"v":41},{"t":7.45,"v":40.8},{"t":7.61,"v":44.9},{"t":7.77,"v":49.3},{"t":7.87,"v":47.4},{"t":8,"v":37.7},{"t":8.1,"v":43.9},{"t":8.22,"v":56.1},{"t":8.32,"v":48.7},{"t":8.47,"v":49.1},{"t":8.56,"v":48.3},{"t":8.66,"v":53},{"t":8.76,"v":53.9},{"t":8.85,"v":56.3},{"t":8.98,"v":54.9},{"t":9.11,"v":54.1},{"t":9.17,"v":46.2},{"t":9.24,"v":46.2},{"t":9.36,"v":51.6},{"t":9.49,"v":49.7},{"t":9.61,"v":51.6},{"t":9.68,"v":56.8},{"t":9.84,"v":56.1},{"t":10,"v":54.9},{"t":10.09,"v":61.3},{"t":10.24,"v":50.7},{"t":10.34,"v":41},{"t":10.44,"v":44.9},{"t":10.6,"v":40},{"t":10.75,"v":34.2},{"t":10.85,"v":34.2},{"t":11,"v":40.4},{"t":11.11,"v":41.6},{"t":11.24,"v":40.4},{"t":11.36,"v":46.8},{"t":11.43,"v":46.8},{"t":11.52,"v":51.2},{"t":11.65,"v":48.7},{"t":11.76,"v":44.5},{"t":11.89,"v":50.1},{"t":12.02,"v":52.6},{"t":12.14,"v":56.5},{"t":12.24,"v":63.2},{"t":12.38,"v":66.7},{"t":12.49,"v":64.2},{"t":12.66,"v":68.6},{"t":12.75,"v":59},{"t":12.9,"v":55.5},{"t":13,"v":57},{"t":13.11,"v":40},{"t":13.17,"v":34.2},{"t":13.28,"v":40},{"t":13.36,"v":30.4},{"t":13.49,"v":31.3},{"t":13.63,"v":24.6},{"t":13.73,"v":24.6},{"t":13.85,"v":22.6},{"t":13.99,"v":20.7},{"t":14.08,"v":26.5},{"t":14.17,"v":33.3},{"t":14.28,"v":33.7},{"t":14.42,"v":37.7},{"t":14.5,"v":22.6},{"t":14.59,"v":18.2},{"t":14.68,"v":24.6},{"t":14.77,"v":41},{"t":14.87,"v":51},{"t":14.97,"v":48.7},{"t":15.09,"v":45.8},{"t":15.19,"v":48.1},{"t":15.28,"v":41},{"t":15.42,"v":38.1},{"t":15.48,"v":42.9},{"t":15.6,"v":42},{"t":15.67,"v":48.7},{"t":15.82,"v":38.7},{"t":15.96,"v":45.8},{"t":16.11,"v":48.9},{"t":16.26,"v":48.1},{"t":16.36,"v":48.9},{"t":16.47,"v":43.9},{"t":16.59,"v":39.7},{"t":16.74,"v":36.6},{"t":16.84,"v":40},{"t":16.93,"v":40},{"t":17,"v":50.7},{"t":17.16,"v":57.8},{"t":17.32,"v":57.4},{"t":17.5,"v":49.7},{"t":17.61,"v":50.7},{"t":17.72,"v":53.6},{"t":17.86,"v":53.6},{"t":18.01,"v":43.9},{"t":18.16,"v":40.6},{"t":18.32,"v":51.6},{"t":18.4,"v":52.6},{"t":18.49,"v":48.7},{"t":18.61,"v":48.7},{"t":18.75,"v":55.1},{"t":18.9,"v":54.5},{"t":19.03,"v":48.7},{"t":19.15,"v":40},{"t":19.3,"v":37.7},{"t":19.4,"v":38.1},{"t":19.47,"v":40.4},{"t":19.59,"v":35.8},{"t":19.69,"v":36.2},{"t":19.78,"v":44.9},{"t":19.85,"v":44.3},{"t":19.98,"v":37.1},{"t":20.2,"v":31.3},{"t":20.32,"v":25.5},{"t":20.39,"v":31.3},{"t":20.49,"v":35.6},{"t":20.64,"v":31.3},{"t":20.76,"v":35.2},{"t":20.89,"v":27.5},{"t":20.99,"v":54.1},{"t":21.11,"v":53.2},{"t":21.22,"v":59.9},{"t":21.31,"v":57.8},{"t":21.49,"v":59.4},{"t":21.62,"v":70.9},{"t":21.88,"v":72.9},{"t":22.03,"v":73.5},{"t":22.25,"v":73.5},{"t":22.36,"v":74.2},{"t":22.47,"v":69.4},{"t":22.66,"v":68.6},{"t":22.76,"v":63.2},{"t":22.93,"v":65.2},{"t":23.08,"v":63.2},{"t":23.24,"v":56.5},{"t":23.34,"v":56.5},{"t":23.41,"v":59.4},{"t":23.49,"v":55.5},{"t":23.63,"v":62.3},{"t":23.78,"v":62.3},{"t":23.9,"v":66.1},{"t":24,"v":55.5},{"t":24.07,"v":54.5},{"t":24.39,"v":68},{"t":24.55,"v":61.9},{"t":24.73,"v":63.2},{"t":24.95,"v":66.1},{"t":25.05,"v":65.7},{"t":25.21,"v":52.6},{"t":25.39,"v":61.3},{"t":25.53,"v":64.8},{"t":25.72,"v":59.4},{"t":25.9,"v":63.8},{"t":26.09,"v":57.4},{"t":26.25,"v":59.4},{"t":26.35,"v":58.2},{"t":26.49,"v":47.4},{"t":26.68,"v":43.5},{"t":26.85,"v":50.7},{"t":27,"v":50.7},{"t":27.19,"v":53.6},{"t":27.29,"v":53},{"t":27.36,"v":41.6},{"t":27.43,"v":38.1},{"t":27.54,"v":46.8},{"t":27.77,"v":57.4},{"t":27.87,"v":58.4},{"t":27.94,"v":54.5},{"t":28.11,"v":62.3},{"t":28.26,"v":61.7},{"t":28.38,"v":53.9},{"t":28.52,"v":55.5},{"t":28.62,"v":56.5},{"t":28.71,"v":55.5},{"t":28.81,"v":50.7},{"t":28.93,"v":50.5},{"t":29.03,"v":44.9},{"t":29.17,"v":42.5},{"t":29.27,"v":50.1},{"t":29.39,"v":41.6},{"t":29.54,"v":38.7},{"t":29.68,"v":45.8},{"t":29.83,"v":35.8},{"t":29.93,"v":35.2},{"t":30,"v":44.3},{"t":30.09,"v":42.9},{"t":30.19,"v":46.8},{"t":30.33,"v":41.6},{"t":30.43,"v":53},{"t":30.59,"v":56.1},{"t":30.67,"v":47.8},{"t":30.87,"v":36.2},{"t":30.91,"v":40},{"t":31.1,"v":33.3},{"t":31.2,"v":40},{"t":31.35,"v":44.9},{"t":31.49,"v":55.5},{"t":31.61,"v":63.6},{"t":31.71,"v":66.7},{"t":31.93,"v":70},{"t":32.03,"v":60.3},{"t":32.19,"v":41},{"t":32.27,"v":41.6},{"t":32.4,"v":49.3},{"t":32.48,"v":48.7},{"t":32.58,"v":43.9},{"t":32.72,"v":51.6},{"t":32.87,"v":57.4},{"t":32.94,"v":57.4},{"t":33.03,"v":54.9},{"t":33.17,"v":60.7},{"t":33.33,"v":53.6},{"t":33.4,"v":52},{"t":33.51,"v":53.6},{"t":33.62,"v":47.4},{"t":33.74,"v":47.4},{"t":33.85,"v":50.3},{"t":33.95,"v":47.2},{"t":34.03,"v":48.1},{"t":34.17,"v":45.8},{"t":34.26,"v":40.4},{"t":34.33,"v":44.9},{"t":34.42,"v":41.6},{"t":34.56,"v":53.6},{"t":34.68,"v":53},{"t":34.78,"v":54.1},{"t":34.97,"v":44.9},{"t":35.08,"v":57.4},{"t":35.23,"v":50.1},{"t":35.43,"v":59.7},{"t":35.58,"v":53},{"t":35.74,"v":62.3},{"t":35.84,"v":65.2},{"t":35.94,"v":64.2},{"t":36.08,"v":70}
],
"oversold":[
{"g":"a","t":5.14,"v":30},{"g":"a","t":5.2,"v":21.1},{"g":"a","t":5.25,"v":26.9},{"g":"a","t":5.36,"v":20.1},{"g":"a","t":5.47,"v":26.5},{"g":"a","t":5.5,"v":30},
{"g":"b","t":13.55,"v":30},{"g":"b","t":13.63,"v":24.6},{"g":"b","t":13.73,"v":24.6},{"g":"b","t":13.85,"v":22.6},{"g":"b","t":13.99,"v":20.7},{"g":"b","t":14.08,"v":26.5},{"g":"b","t":14.13,"v":30},
{"g":"c","t":14.45,"v":30},{"g":"c","t":14.5,"v":22.6},{"g":"c","t":14.59,"v":18.2},{"g":"c","t":14.68,"v":24.6},{"g":"c","t":14.71,"v":30},
{"g":"d","t":20.27,"v":30},{"g":"d","t":20.32,"v":25.5},{"g":"d","t":20.37,"v":30},
{"g":"e","t":20.85,"v":30},{"g":"e","t":20.89,"v":27.5},{"g":"e","t":20.93,"v":30}
]
},
"vconcat":[
{
"width":1413,"height":712,
"resolve":{"axis":{"x":"independent","y":"independent"}},
"layer":[
{"data":{"values":[{"t":24.93,"p":26070,"txt":"NAS100USD, 5"}]},"mark":{"type":"text","font":"Liberation Sans","fontSize":78,"align":"center","baseline":"alphabetic","color":"#787b86","opacity":0.16},"encoding":{"x":{"field":"t","type":"quantitative","axis":null,"scale":{"domain":[3.46,46.67],"nice":false,"zero":false}},"y":{"field":"p","type":"quantitative","axis":{"orient":"right","title":null,"domain":false,"ticks":false,"grid":false,"labelPadding":9,"values":[26200,26180,26160,26080,26060,26040,26020,26000,25980,25960,25940],"labelExpr":"slice(format(datum.value,'.1f'),0,2)+'\u2009'+replace(slice(format(datum.value,'.1f'),2),'.',',')"},"scale":{"domain":[25920.1,26220.9],"nice":false,"zero":false}},"text":{"field":"txt"}}},
{"data":{"values":[{"t":25.48,"p":26047.7,"txt":"US Nas 100"}]},"mark":{"type":"text","font":"Liberation Sans","fontSize":32,"align":"center","baseline":"alphabetic","color":"#787b86","opacity":0.16},"encoding":{"x":{"field":"t","type":"quantitative","axis":null,"scale":{"domain":[3.46,46.67],"nice":false,"zero":false}},"y":{"field":"p","type":"quantitative","axis":null,"scale":{"domain":[25920.1,26220.9],"nice":false,"zero":false}},"text":{"field":"txt"}}},
{"data":{"name":"zones"},"mark":{"type":"rect","clip":true,"strokeWidth":1},"encoding":{"x":{"field":"t","type":"quantitative","axis":null,"scale":{"domain":[3.46,46.67],"nice":false,"zero":false}},"x2":{"field":"t2"},"y":{"field":"p","type":"quantitative","axis":null,"scale":{"domain":[25920.1,26220.9],"nice":false,"zero":false}},"y2":{"field":"p2"},"fill":{"field":"zone","type":"nominal","legend":null,"scale":{"domain":["risk","reward","range","htf","asian"],"range":["rgba(242,54,69,0.11)","rgba(8,153,129,0.10)","rgba(41,98,255,0.15)","rgba(156,39,176,0.15)","rgba(255,255,0,0.08)"]}},"stroke":{"field":"zone","type":"nominal","legend":null,"scale":{"domain":["risk","reward","range","htf","asian"],"range":["rgba(0,0,0,0)","rgba(0,0,0,0)","#2962ff","#9c27b0","#000000"]}}}},
{"data":{"name":"cloud"},"mark":{"type":"area","clip":true,"color":"#787b86","opacity":0.17,"interpolate":"linear"},"encoding":{"x":{"field":"t","type":"quantitative","axis":null,"scale":{"domain":[3.46,46.67],"nice":false,"zero":false}},"y":{"field":"a","type":"quantitative","axis":null,"scale":{"domain":[25920.1,26220.9],"nice":false,"zero":false}},"y2":{"field":"b"}}},
{"data":{"name":"cloud"},"mark":{"type":"line","clip":true,"color":"#b2b5be","strokeWidth":1,"opacity":0.8},"encoding":{"x":{"field":"t","type":"quantitative","axis":null,"scale":{"domain":[3.46,46.67],"nice":false,"zero":false}},"y":{"field":"a","type":"quantitative","axis":null,"scale":{"domain":[25920.1,26220.9],"nice":false,"zero":false}}}},
{"data":{"name":"cloud"},"mark":{"type":"line","clip":true,"color":"#787b86","strokeWidth":2,"opacity":0.75},"encoding":{"x":{"field":"t","type":"quantitative","axis":null,"scale":{"domain":[3.46,46.67],"nice":false,"zero":false}},"y":{"field":"b","type":"quantitative","axis":null,"scale":{"domain":[25920.1,26220.9],"nice":false,"zero":false}}}},
{"data":{"name":"levels"},"transform":[{"filter":"datum.kind=='black'"}],"mark":{"type":"rule","clip":true,"color":"#131722","strokeDash":[6,6],"strokeWidth":1},"encoding":{"x":{"field":"t","type":"quantitative","axis":null,"scale":{"domain":[3.46,46.67],"nice":false,"zero":false}},"x2":{"field":"t2"},"y":{"field":"p","type":"quantitative","axis":null,"scale":{"domain":[25920.1,26220.9],"nice":false,"zero":false}}}},
{"data":{"name":"levels"},"transform":[{"filter":"datum.kind=='dots'"}],"mark":{"type":"rule","clip":true,"color":"#000000","strokeDash":[2,4],"strokeWidth":2},"encoding":{"x":{"field":"t","type":"quantitative","axis":null,"scale":{"domain":[3.46,46.67],"nice":false,"zero":false}},"x2":{"field":"t2"},"y":{"field":"p","type":"quantitative","axis":null,"scale":{"domain":[25920.1,26220.9],"nice":false,"zero":false}}}},
{"data":{"name":"levels"},"transform":[{"filter":"datum.kind=='asian'"}],"mark":{"type":"rule","clip":true,"color":"#9c27b0","strokeDash":[5,5],"strokeWidth":1},"encoding":{"x":{"field":"t","type":"quantitative","axis":null,"scale":{"domain":[3.46,46.67],"nice":false,"zero":false}},"x2":{"field":"t2"},"y":{"field":"p","type":"quantitative","axis":null,"scale":{"domain":[25920.1,26220.9],"nice":false,"zero":false}}}},
{"data":{"values":[{"t":9.67,"t2":36.09,"p":26140.5,"p2":26127.5}]},"mark":{"type":"rule","clip":true,"color":"#787b86","opacity":0.7,"strokeDash":[6,4],"strokeWidth":1},"encoding":{"x":{"field":"t","type":"quantitative","axis":null,"scale":{"domain":[3.46,46.67],"nice":false,"zero":false}},"x2":{"field":"t2"},"y":{"field":"p","type":"quantitative","axis":null,"scale":{"domain":[25920.1,26220.9],"nice":false,"zero":false}},"y2":{"field":"p2"}}},
{"data":{"values":[{"t":36.09,"p":26127.5}]},"mark":{"type":"point","filled":false,"shape":"M-0.9,-0.8 L0,0 L-0.9,0.8","size":36,"color":"#787b86","opacity":0.8,"strokeWidth":1},"encoding":{"x":{"field":"t","type":"quantitative","axis":null,"scale":{"domain":[3.46,46.67],"nice":false,"zero":false}},"y":{"field":"p","type":"quantitative","axis":null,"scale":{"domain":[25920.1,26220.9],"nice":false,"zero":false}}}},
{"data":{"name":"green"},"mark":{"type":"line","clip":true,"color":"#43a047","strokeWidth":2},"encoding":{"x":{"field":"t","type":"quantitative","axis":null,"scale":{"domain":[3.46,46.67],"nice":false,"zero":false}},"y":{"field":"p","type":"quantitative","axis":null,"scale":{"domain":[25920.1,26220.9],"nice":false,"zero":false}}}},
{"data":{"name":"tenkan"},"mark":{"type":"line","clip":true,"color":"#f23645","strokeWidth":2},"encoding":{"x":{"field":"t","type":"quantitative","axis":null,"scale":{"domain":[3.46,46.67],"nice":false,"zero":false}},"y":{"field":"p","type":"quantitative","axis":null,"scale":{"domain":[25920.1,26220.9],"nice":false,"zero":false}}}},
{"data":{"name":"kijun"},"mark":{"type":"line","clip":true,"color":"#2962ff","strokeWidth":2},"encoding":{"x":{"field":"t","type":"quantitative","axis":null,"scale":{"domain":[3.46,46.67],"nice":false,"zero":false}},"y":{"field":"p","type":"quantitative","axis":null,"scale":{"domain":[25920.1,26220.9],"nice":false,"zero":false}}}},
{"data":{"name":"candles"},"mark":{"type":"rule","clip":true,"strokeWidth":1},"encoding":{"x":{"field":"t","type":"quantitative","axis":null,"scale":{"domain":[3.46,46.67],"nice":false,"zero":false}},"y":{"field":"l","type":"quantitative","axis":null,"scale":{"domain":[25920.1,26220.9],"nice":false,"zero":false}},"y2":{"field":"h"},"color":{"condition":{"test":"datum.c>=datum.o","value":"#2962ff"},"value":"#f7525f"}}},
{"data":{"name":"candles"},"mark":{"type":"bar","clip":true,"size":3.5,"orient":"vertical"},"encoding":{"x":{"field":"t","type":"quantitative","axis":null,"scale":{"domain":[3.46,46.67],"nice":false,"zero":false}},"y":{"field":"o","type":"quantitative","axis":null,"scale":{"domain":[25920.1,26220.9],"nice":false,"zero":false}},"y2":{"field":"c"},"color":{"condition":{"test":"datum.c>=datum.o","value":"#2962ff"},"value":"#f7525f"}}},
{"data":{"values":[{"t":3.71,"p":26214.6,"txt":"US Nas 100 · 5 · OANDA","k":"n"},{"t":7.77,"p":26214.6,"txt":"O","k":"n"},{"t":8.02,"p":26214.6,"txt":"26\u2009119,0","k":"v"},{"t":9.58,"p":26214.6,"txt":"H","k":"n"},{"t":9.82,"p":26214.6,"txt":"26\u2009128,0","k":"v"},{"t":11.38,"p":26214.6,"txt":"B","k":"n"},{"t":11.6,"p":26214.6,"txt":"26\u2009117,4","k":"v"},{"t":13.16,"p":26214.6,"txt":"C","k":"n"},{"t":13.37,"p":26214.6,"txt":"26\u2009128,0","k":"v"},{"t":14.93,"p":26214.6,"txt":"+8,8 (+0,03%)","k":"v"}]},"mark":{"type":"text","align":"left","baseline":"middle","fontSize":12},"encoding":{"x":{"field":"t","type":"quantitative","axis":null,"scale":{"domain":[3.46,46.67],"nice":false,"zero":false}},"y":{"field":"p","type":"quantitative","axis":null,"scale":{"domain":[25920.1,26220.9],"nice":false,"zero":false}},"text":{"field":"txt"},"color":{"condition":{"test":"datum.k=='v'","value":"#2962ff"},"value":"#131722"}}},
{"data":{"values":[{"t":3.46,"p":26226.4,"txt":"Dany_dan créé avec TradingView.com, Oct 31, 2025 13:09 UTC+1"}]},"mark":{"type":"text","align":"left","baseline":"middle","fontSize":12,"color":"#131722"},"encoding":{"x":{"field":"t","type":"quantitative","axis":null,"scale":{"domain":[3.46,46.67],"nice":false,"zero":false}},"y":{"field":"p","type":"quantitative","axis":null,"scale":{"domain":[25920.1,26220.9],"nice":false,"zero":false}},"text":{"field":"txt"}}},
{"data":{"values":[{"t":32.85,"p":26111.5,"txt":"5m"}]},"mark":{"type":"text","align":"center","baseline":"middle","fontSize":13,"fontStyle":"italic","fontWeight":"bold","color":"#131722"},"encoding":{"x":{"field":"t","type":"quantitative","axis":null,"scale":{"domain":[3.46,46.67],"nice":false,"zero":false}},"y":{"field":"p","type":"quantitative","axis":null,"scale":{"domain":[25920.1,26220.9],"nice":false,"zero":false}},"text":{"field":"txt"}}},
{"data":{"values":[{"t":46.48,"p":26102.1,"txt":"xxx_haut_asian"},{"t":46.48,"p":26025.6,"txt":"xxx_bas_asian"}]},"mark":{"type":"text","align":"right","baseline":"middle","font":"DejaVu Sans","fontSize":12,"fontStyle":"italic","color":"#131722"},"encoding":{"x":{"field":"t","type":"quantitative","axis":null,"scale":{"domain":[3.46,46.67],"nice":false,"zero":false}},"y":{"field":"p","type":"quantitative","axis":null,"scale":{"domain":[25920.1,26220.9],"nice":false,"zero":false}},"text":{"field":"txt"}}},
{"data":{"values":[{"t":36.06,"p":25925.5}]},"mark":{"type":"point","shape":"circle","size":300,"filled":true,"fill":"#ffffff","stroke":"#9c27b0","strokeWidth":1.5,"opacity":1},"encoding":{"x":{"field":"t","type":"quantitative","axis":null,"scale":{"domain":[3.46,46.67],"nice":false,"zero":false}},"y":{"field":"p","type":"quantitative","axis":null,"scale":{"domain":[25920.1,26220.9],"nice":false,"zero":false}}}},
{"data":{"values":[{"t":36.06,"p":25925.5}]},"mark":{"type":"point","shape":"M0.25,-1 L-0.55,0.15 H-0.05 L-0.25,1 L0.55,-0.2 H0.05 Z","size":100,"filled":true,"color":"#9c27b0","opacity":1},"encoding":{"x":{"field":"t","type":"quantitative","axis":null,"scale":{"domain":[3.46,46.67],"nice":false,"zero":false}},"y":{"field":"p","type":"quantitative","axis":null,"scale":{"domain":[25920.1,26220.9],"nice":false,"zero":false}}}},
{"data":{"values":[{"t":3.46,"t2":48.6,"p":26220.9,"p2":25853}]},"mark":{"type":"rect","filled":false,"stroke":"#f0f3fa","strokeWidth":2},"encoding":{"x":{"field":"t","type":"quantitative","axis":null,"scale":{"domain":[3.46,46.67],"nice":false,"zero":false}},"x2":{"field":"t2"},"y":{"field":"p","type":"quantitative","axis":null,"scale":{"domain":[25920.1,26220.9],"nice":false,"zero":false}},"y2":{"field":"p2"}}},
{"data":{"values":[{"t":3.46,"t2":48.6,"p":25919.8}]},"mark":{"type":"rule","color":"#e0e3eb","strokeWidth":1},"encoding":{"x":{"field":"t","type":"quantitative","axis":null,"scale":{"domain":[3.46,46.67],"nice":false,"zero":false}},"x2":{"field":"t2"},"y":{"field":"p","type":"quantitative","axis":null,"scale":{"domain":[25920.1,26220.9],"nice":false,"zero":false}}}},
{"data":{"values":[{"t":46.76,"t2":48.41,"p":26218.4,"p2":26209}]},"mark":{"type":"rect","fill":"#ffffff","stroke":"#e0e3eb","strokeWidth":1,"cornerRadius":4},"encoding":{"x":{"field":"t","type":"quantitative","axis":null,"scale":{"domain":[3.46,46.67],"nice":false,"zero":false}},"x2":{"field":"t2"},"y":{"field":"p","type":"quantitative","axis":null,"scale":{"domain":[25920.1,26220.9],"nice":false,"zero":false}},"y2":{"field":"p2"}}},
{"data":{"values":[{"t":47.07,"p":26213.7,"txt":"USD"}]},"mark":{"type":"text","align":"left","baseline":"middle","fontSize":11,"color":"#131722"},"encoding":{"x":{"field":"t","type":"quantitative","axis":null,"scale":{"domain":[3.46,46.67],"nice":false,"zero":false}},"y":{"field":"p","type":"quantitative","axis":null,"scale":{"domain":[25920.1,26220.9],"nice":false,"zero":false}},"text":{"field":"txt"}}},
{"data":{"name":"badges"},"mark":{"type":"rect"},"encoding":{"x":{"field":"t","type":"quantitative","axis":null,"scale":{"domain":[3.46,46.67],"nice":false,"zero":false}},"x2":{"field":"t2"},"y":{"field":"p","type":"quantitative","axis":null,"scale":{"domain":[25920.1,26220.9],"nice":false,"zero":false}},"y2":{"field":"p2"},"color":{"field":"tag","type":"nominal","legend":null,"scale":{"domain":["high","entry","last","asian"],"range":["#f23645","#787b86","#2962ff","#9c27b0"]}}}},
{"data":{"values":[{"t":46.92,"p":26191,"txt":"26\u2009191,0"},{"t":46.92,"p":26141,"txt":"26\u2009141,0"},{"t":46.92,"p":26127.5,"txt":"26\u2009128,0"},{"t":46.92,"p":26102.1,"txt":"26\u2009102,5"},{"t":46.92,"p":26025.6,"txt":"26\u2009026,0"}]},"mark":{"type":"text","align":"left","baseline":"middle","fontSize":12,"fontWeight":"bold","color":"#ffffff"},"encoding":{"x":{"field":"t","type":"quantitative","axis":null,"scale":{"domain":[3.46,46.67],"nice":false,"zero":false}},"y":{"field":"p","type":"quantitative","axis":null,"scale":{"domain":[25920.1,26220.9],"nice":false,"zero":false}},"text":{"field":"txt"}}},
{"data":{"values":[{"t":46.92,"p":26121.6,"txt":"00:10"}]},"mark":{"type":"text","align":"left","baseline":"middle","fontSize":12,"color":"#dbe4ff"},"encoding":{"x":{"field":"t","type":"quantitative","axis":null,"scale":{"domain":[3.46,46.67],"nice":false,"zero":false}},"y":{"field":"p","type":"quantitative","axis":null,"scale":{"domain":[25920.1,26220.9],"nice":false,"zero":false}},"text":{"field":"txt"}}}
]
},
{
"width":1413,"height":130,
"resolve":{"axis":{"x":"independent","y":"independent"}},
"layer":[
{"data":{"values":[{"t":3.46,"t2":46.67,"v":70,"v2":30}]},"mark":{"type":"rect","color":"#7e57c2","opacity":0.1},"encoding":{"x":{"field":"t","type":"quantitative","scale":{"domain":[3.46,46.67],"nice":false,"zero":false},"axis":{"orient":"bottom","title":"TradingView","titleFont":"Inter","titleFontSize":20,"titleFontWeight":600,"titleColor":"#131722","titleAnchor":"start","titleAlign":"left","titleX":37,"titlePadding":30,"domain":false,"ticks":false,"grid":false,"labelPadding":7,"labelOverlap":false,"values":[6,9,12,15,18,21,23,26,29,32,35,38,41,43,45],"labelExpr":"{'6':'06:00','9':'09:00','12':'12:00','15':'15:00','18':'18:00','21':'21:00','23':'31','26':'03:00','29':'06:00','32':'09:00','35':'12:00','38':'15:00','41':'18:00','43':'20:00','45':'Nov'}[datum.value]"}},"x2":{"field":"t2"},"y":{"field":"v","type":"quantitative","scale":{"domain":[13.33,88.7],"nice":false,"zero":false},"axis":{"orient":"right","title":null,"domain":false,"ticks":false,"grid":false,"labelPadding":9,"values":[20,40,60,80],"labelExpr":"replace(format(datum.value,'.2f'),'.',',')"}},"y2":{"field":"v2"}}},
{"data":{"values":[{"t":3.46,"t2":46.67,"v":70},{"t":3.46,"t2":46.67,"v":30}]},"mark":{"type":"rule","color":"#787b86","strokeDash":[5,4],"strokeWidth":1},"encoding":{"x":{"field":"t","type":"quantitative","axis":null,"scale":{"domain":[3.46,46.67],"nice":false,"zero":false}},"x2":{"field":"t2"},"y":{"field":"v","type":"quantitative","axis":null,"scale":{"domain":[13.33,88.7],"nice":false,"zero":false}}}},
{"data":{"values":[{"t":3.46,"t2":46.67,"v":50}]},"mark":{"type":"rule","color":"#787b86","opacity":0.5,"strokeDash":[5,4],"strokeWidth":1},"encoding":{"x":{"field":"t","type":"quantitative","axis":null,"scale":{"domain":[3.46,46.67],"nice":false,"zero":false}},"x2":{"field":"t2"},"y":{"field":"v","type":"quantitative","axis":null,"scale":{"domain":[13.33,88.7],"nice":false,"zero":false}}}},
{"data":{"name":"oversold"},"mark":{"type":"area","color":"#f23645","opacity":0.2},"encoding":{"x":{"field":"t","type":"quantitative","axis":null,"scale":{"domain":[3.46,46.67],"nice":false,"zero":false}},"y":{"field":"v","type":"quantitative","axis":null,"scale":{"domain":[13.33,88.7],"nice":false,"zero":false}},"y2":{"datum":30},"detail":{"field":"g"}}},
{"data":{"name":"rsi"},"mark":{"type":"line","color":"#7e57c2","strokeWidth":1},"encoding":{"x":{"field":"t","type":"quantitative","axis":null,"scale":{"domain":[3.46,46.67],"nice":false,"zero":false}},"y":{"field":"v","type":"quantitative","axis":null,"scale":{"domain":[13.33,88.7],"nice":false,"zero":false}}}},
{"data":{"values":[{"t":3.98,"v":-20}]},"mark":{"type":"point","shape":"M-1,-0.5 H-0.12 V0.5 H-0.56 V-0.1 H-1 Z M-0.08,-0.3 a0.18,0.18 0 1 0 0.36,0 a0.18,0.18 0 1 0 -0.36,0 Z M0.5,-0.5 H1 L0.55,0.5 H0.05 Z","size":1024,"filled":true,"color":"#131722","opacity":1},"encoding":{"x":{"field":"t","type":"quantitative","axis":null,"scale":{"domain":[3.46,46.67],"nice":false,"zero":false}},"y":{"field":"v","type":"quantitative","axis":null,"scale":{"domain":[13.33,88.7],"nice":false,"zero":false}}}}
]
}
]
}
